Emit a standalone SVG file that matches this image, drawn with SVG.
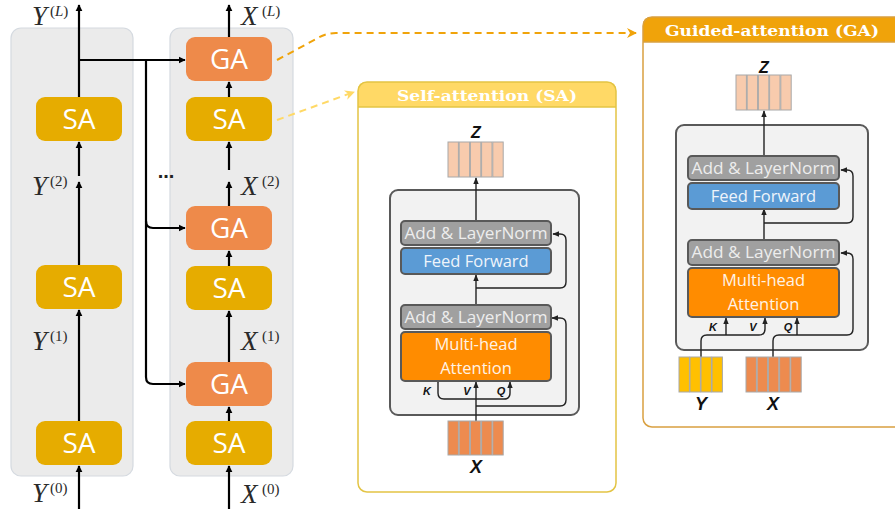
<svg xmlns="http://www.w3.org/2000/svg" width="895" height="509" viewBox="0 0 895 509">
<defs>
<marker id="ah" viewBox="0 0 10 10" refX="9" refY="5" markerWidth="3.2" markerHeight="3.2" orient="auto"><path d="M0,0 L10,5 L0,10 z" fill="#000"/></marker>
<marker id="as" viewBox="0 0 10 10" refX="9" refY="5" markerWidth="5" markerHeight="5" orient="auto"><path d="M0,1 L10,5 L0,9 z" fill="#222"/></marker>
<marker id="ao" viewBox="0 0 10 10" refX="9" refY="5" markerWidth="5" markerHeight="5" orient="auto"><path d="M0,0 L10,5 L0,10 L3,5 z" fill="#F0A30A"/></marker>
<marker id="ay" viewBox="0 0 10 10" refX="9" refY="5" markerWidth="5" markerHeight="5" orient="auto"><path d="M0,0 L10,5 L0,10 L3,5 z" fill="#FFD966"/></marker>
</defs>
<style>
.col{fill:#EBEBEB;stroke:#D5DAE0;stroke-width:1.2}
.sa{fill:#E6AC00}
.ga{fill:#EE8A4A}
.nt{font-family:"Open Sans","Noto Sans",sans-serif;font-size:28px;fill:#fff;text-anchor:middle}
.m{font-family:"Liberation Serif","DejaVu Serif",serif;font-style:italic;font-size:27px;fill:#2a2a2a}
.s{font-family:"Liberation Serif","DejaVu Serif",serif;font-size:15px;fill:#2a2a2a}
.wire{fill:none;stroke:#000;stroke-width:2.2}
.thin{fill:none;stroke:#222;stroke-width:1.4}
.inner{fill:#F2F2F2;stroke:#595959;stroke-width:2}
.ln{fill:#A0A0A0;stroke:#595959;stroke-width:2}
.ff{fill:#5B9BD5;stroke:#595959;stroke-width:2}
.mha{fill:#FF8C00;stroke:#595959;stroke-width:2}
.bt{font-family:"Open Sans","Noto Sans",sans-serif;font-size:16.5px;text-anchor:middle}
.lt{fill:#EDEDED}
.wt{fill:#FFF3E6}
.vz{fill:#F8CBAD;stroke:#A8A8A8;stroke-width:1}
.vx{fill:#ED8B4F;stroke:#A8A8A8;stroke-width:1}
.vy{fill:#FFC000;stroke:#A8A8A8;stroke-width:1}
.lb{font-family:"Liberation Sans","DejaVu Sans",sans-serif;font-weight:bold;font-style:italic;fill:#111;text-anchor:middle}
.ttl{font-family:"DejaVu Serif","Liberation Serif",serif;font-weight:bold;font-size:15px;fill:#fff;text-anchor:middle}
</style>
<rect width="895" height="509" fill="#fff"/>

<!-- columns -->
<rect class="col" x="11" y="28" width="122" height="448" rx="10"/>
<rect class="col" x="170" y="28" width="123" height="448" rx="10"/>

<!-- connectors -->
<g id="connectors">
<path class="wire" d="M79,509 L79,466" marker-end="url(#ah)"/>
<path class="wire" d="M79,421 L79,310" marker-end="url(#ah)"/>
<path class="wire" d="M79,265 L79,182" marker-end="url(#ah)"/>
<path class="wire" d="M79,176 L79,142" marker-end="url(#ah)"/>
<path class="wire" d="M79,97 L79,5" marker-end="url(#ah)"/>
<path class="wire" d="M229,509 L229,466" marker-end="url(#ah)"/>
<path class="wire" d="M229,421 L229,407" marker-end="url(#ah)"/>
<path class="wire" d="M229,362 L229,311" marker-end="url(#ah)"/>
<path class="wire" d="M229,266 L229,251" marker-end="url(#ah)"/>
<path class="wire" d="M229,206 L229,182" marker-end="url(#ah)"/>
<path class="wire" d="M229,170 L229,142" marker-end="url(#ah)"/>
<path class="wire" d="M229,97 L229,82" marker-end="url(#ah)"/>
<path class="wire" d="M229,37 L229,5" marker-end="url(#ah)"/>
<path class="wire" d="M79,60 L185,60" marker-end="url(#ah)"/>
<path class="wire" d="M146,60 L146,377 Q146,384 153,384 L185,384" marker-end="url(#ah)"/>
<path class="wire" d="M146,221 Q146,228 153,228 L185,228" marker-end="url(#ah)"/>
<path d="M277,60 L318,38 Q326,33 336,33 L636,33" fill="none" stroke="#F0A30A" stroke-width="2" stroke-dasharray="7,5" marker-end="url(#ao)"/>
<path d="M277,120 L354,92" fill="none" stroke="#FFD966" stroke-width="2" stroke-dasharray="7,5" marker-end="url(#ay)"/>
</g>

<!-- nodes left -->
<g id="sa-y3"><rect class="sa" x="36" y="97" width="86" height="44" rx="9"/><text class="nt" x="79" y="129">SA</text></g>
<g id="sa-y2"><rect class="sa" x="36" y="265" width="86" height="44" rx="9"/><text class="nt" x="79" y="297">SA</text></g>
<g id="sa-y1"><rect class="sa" x="36" y="421" width="86" height="44" rx="9"/><text class="nt" x="79" y="453">SA</text></g>
<!-- nodes right -->
<g id="ga-x3"><rect class="ga" x="186" y="37" width="86" height="44" rx="9"/><text class="nt" x="229" y="69">GA</text></g>
<g id="sa-x3"><rect class="sa" x="186" y="97" width="86" height="44" rx="9"/><text class="nt" x="229" y="129">SA</text></g>
<g id="ga-x2"><rect class="ga" x="186" y="206" width="86" height="44" rx="9"/><text class="nt" x="229" y="238">GA</text></g>
<g id="sa-x2"><rect class="sa" x="186" y="266" width="86" height="44" rx="9"/><text class="nt" x="229" y="298">SA</text></g>
<g id="ga-x1"><rect class="ga" x="186" y="362" width="86" height="44" rx="9"/><text class="nt" x="229" y="394">GA</text></g>
<g id="sa-x1"><rect class="sa" x="186" y="421" width="86" height="44" rx="9"/><text class="nt" x="229" y="453">SA</text></g>

<!-- math labels -->
<g id="labels">
<text class="m" x="32" y="25">Y</text><text class="s" x="50" y="16">(<tspan font-style="italic">L</tspan>)</text>
<text class="m" x="32" y="195">Y</text><text class="s" x="50" y="186">(2)</text>
<text class="m" x="32" y="350">Y</text><text class="s" x="50" y="341">(1)</text>
<text class="m" x="32" y="502">Y</text><text class="s" x="50" y="493">(0)</text>
<text class="m" x="241" y="25">X</text><text class="s" x="262" y="16">(<tspan font-style="italic">L</tspan>)</text>
<text class="m" x="241" y="195">X</text><text class="s" x="262" y="186">(2)</text>
<text class="m" x="241" y="350">X</text><text class="s" x="262" y="341">(1)</text>
<text class="m" x="241" y="503">X</text><text class="s" x="262" y="494">(0)</text>
<text x="166" y="178" font-family="Liberation Sans,sans-serif" font-size="20" font-weight="bold" fill="#222" text-anchor="middle">...</text>
</g>

<!-- SA panel -->
<g id="sa-panel">
<path d="M358,107 L358,90 Q358,82 366,82 L608,82 Q616,82 616,90 L616,107 Z" fill="#FFD966"/>
<rect x="358" y="82" width="258" height="410" rx="9" fill="none" stroke="#E3C444" stroke-width="1.5"/>
<line x1="358" y1="107" x2="616" y2="107" stroke="#E3C444" stroke-width="1.5"/>
<text class="ttl" x="487" y="101" textLength="180" lengthAdjust="spacingAndGlyphs">Self-attention (SA)</text>
<rect class="inner" x="390" y="190" width="189" height="225" rx="8"/>
<g>
<rect class="vz" x="448" y="142" width="10.4" height="35"/><rect class="vz" x="459.2" y="142" width="10.4" height="35"/><rect class="vz" x="470.4" y="142" width="10.4" height="35"/><rect class="vz" x="481.6" y="142" width="10.4" height="35"/><rect class="vz" x="492.8" y="142" width="10.4" height="35"/>
</g>
<text class="lb" x="476" y="138" font-size="16">Z</text>
<path class="thin" d="M476,221 L476,178" marker-end="url(#as)"/>
<path class="thin" d="M476,305 L476,275" marker-end="url(#as)"/>
<path class="thin" d="M476,288 L560,288 Q566,288 566,282 L566,240 Q566,234 560,234 L553,234" marker-end="url(#as)"/>
<path class="thin" d="M476,421 L476,382" marker-end="url(#as)"/>
<path class="thin" d="M476,406 L560,406 Q566,406 566,400 L566,324 Q566,318 560,318 L552,318" marker-end="url(#as)"/>
<path class="thin" d="M438,382 L438,393 Q438,399 444,399 L504,399 Q510,399 510,393 L510,382" marker-start="url(#as)" marker-end="url(#as)"/>
<rect class="ln" x="401" y="221" width="150" height="24" rx="4"/><text class="bt lt" x="476" y="239" textLength="143" lengthAdjust="spacingAndGlyphs">Add &amp; LayerNorm</text>
<rect class="ff" x="401" y="248" width="150" height="26" rx="4"/><text class="bt" fill="#EEF4FB" x="476" y="267">Feed Forward</text>
<rect class="ln" x="401" y="305" width="150" height="24" rx="4"/><text class="bt lt" x="476" y="323" textLength="143" lengthAdjust="spacingAndGlyphs">Add &amp; LayerNorm</text>
<rect class="mha" x="401" y="332" width="150" height="49" rx="4"/><text class="bt wt" x="476" y="350">Multi-head</text><text class="bt wt" x="476" y="374">Attention</text>
<text class="lb" x="427" y="395" font-size="11">K</text><text class="lb" x="467" y="395" font-size="11">V</text><text class="lb" x="501" y="395" font-size="11">Q</text>
<g>
<rect class="vx" x="448" y="421" width="10.4" height="34"/><rect class="vx" x="459.2" y="421" width="10.4" height="34"/><rect class="vx" x="470.4" y="421" width="10.4" height="34"/><rect class="vx" x="481.6" y="421" width="10.4" height="34"/><rect class="vx" x="492.8" y="421" width="10.4" height="34"/>
</g>
<text class="lb" x="476" y="473" font-size="18">X</text>
</g>

<!-- GA panel -->
<g id="ga-panel">
<path d="M643,42 L643,25 Q643,17 651,17 L900,17 L900,42 Z" fill="#F0A30A"/>
<rect x="643" y="17" width="260" height="410" rx="9" fill="none" stroke="#D9A040" stroke-width="1.5"/>
<line x1="643" y1="42" x2="895" y2="42" stroke="#D9A040" stroke-width="1.5"/>
<text class="ttl" x="772" y="36" textLength="214" lengthAdjust="spacingAndGlyphs">Guided-attention (GA)</text>
<rect class="inner" x="676" y="125" width="192" height="225" rx="8"/>
<g>
<rect class="vz" x="736" y="75" width="10.4" height="35"/><rect class="vz" x="747.2" y="75" width="10.4" height="35"/><rect class="vz" x="758.4" y="75" width="10.4" height="35"/><rect class="vz" x="769.6" y="75" width="10.4" height="35"/><rect class="vz" x="780.8" y="75" width="10.4" height="35"/>
</g>
<text class="lb" x="764" y="73" font-size="16">Z</text>
<path class="thin" d="M764,156 L764,111" marker-end="url(#as)"/>
<path class="thin" d="M764,240 L764,209" marker-end="url(#as)"/>
<path class="thin" d="M764,223 L847,223 Q853,223 853,217 L853,176 Q853,170 847,170 L841,170" marker-end="url(#as)"/>
<path class="thin" d="M773,357 L773,341 Q773,335 779,335 L847,335 Q853,335 853,329 L853,259 Q853,253 847,253 L841,253" marker-end="url(#as)"/>
<path class="thin" d="M797,335 L797,318" marker-end="url(#as)"/>
<path class="thin" d="M701,357 L701,341 Q701,335 707,335 L759,335 Q765,335 765,329 L765,318" marker-end="url(#as)"/>
<path class="thin" d="M726,335 L726,318" marker-end="url(#as)"/>
<rect class="ln" x="688" y="156" width="151" height="24" rx="4"/><text class="bt lt" x="763.5" y="174" textLength="144" lengthAdjust="spacingAndGlyphs">Add &amp; LayerNorm</text>
<rect class="ff" x="688" y="183" width="151" height="26" rx="4"/><text class="bt" fill="#EEF4FB" x="763.5" y="202">Feed Forward</text>
<rect class="ln" x="688" y="240" width="151" height="25" rx="4"/><text class="bt lt" x="763.5" y="258" textLength="144" lengthAdjust="spacingAndGlyphs">Add &amp; LayerNorm</text>
<rect class="mha" x="688" y="268" width="151" height="49" rx="4"/><text class="bt wt" x="763.5" y="286">Multi-head</text><text class="bt wt" x="763.5" y="310">Attention</text>
<text class="lb" x="713" y="331" font-size="11">K</text><text class="lb" x="753" y="331" font-size="11">V</text><text class="lb" x="788" y="331" font-size="11">Q</text>
<g>
<rect class="vy" x="679" y="357" width="10.4" height="35"/><rect class="vy" x="690" y="357" width="10.4" height="35"/><rect class="vy" x="701" y="357" width="10.4" height="35"/><rect class="vy" x="712" y="357" width="10.4" height="35"/>
</g>
<g>
<rect class="vx" x="746" y="357" width="10.4" height="35"/><rect class="vx" x="757.2" y="357" width="10.4" height="35"/><rect class="vx" x="768.4" y="357" width="10.4" height="35"/><rect class="vx" x="779.6" y="357" width="10.4" height="35"/><rect class="vx" x="790.8" y="357" width="10.4" height="35"/>
</g>
<text class="lb" x="701" y="410" font-size="18">Y</text>
<text class="lb" x="773" y="410" font-size="18">X</text>
</g>
</svg>
